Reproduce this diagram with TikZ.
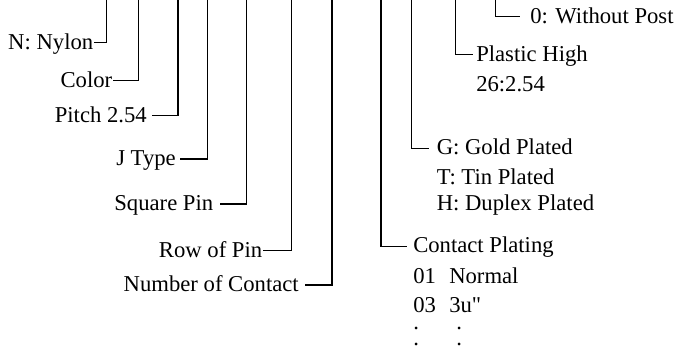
\documentclass[tikz,border=0pt]{standalone}
\usepackage{fontspec}
\setmainfont{Liberation Serif}[Ligatures=TeXOff]
\begin{document}
\begin{tikzpicture}[x=0.75pt,y=-0.75pt,
  lbl/.style={inner sep=0pt, font=\fontsize{17pt}{20pt}\selectfont},
  lleft/.style={lbl, anchor=base east},
  lright/.style={lbl, anchor=base west},
  wire/.style={line width=1.1pt, black}]
\useasboundingbox (0,0) rectangle (676,347);

% top ends of the vertical leads
\coordinate (tnylon)   at (106.7,0);
\coordinate (tcolor)   at (138.5,0);
\coordinate (tpitch)   at (178,0);
\coordinate (tjtype)   at (207.7,0);
\coordinate (tsquare)  at (246.3,0);
\coordinate (trow)     at (291.3,0);
\coordinate (tnumber)  at (331.8,0);
\coordinate (tplating) at (381,0);
\coordinate (tgold)    at (411.7,0);
\coordinate (tplastic) at (455.7,0);
\coordinate (tpost)    at (495.5,0);

% left labels
\node[lleft] (nylon)  at (93.5,49)    {N: Nylon};
\node[lleft] (color)  at (112.5,87.2) {Color};
\node[lleft] (pitch)  at (147,122.2)  {Pitch 2.54};
\node[lleft] (jtype)  at (176,165.5)  {J Type};
\node[lleft] (square) at (213.5,210.5){Square Pin};
\node[lleft] (row)    at (262.5,257.2){Row of Pin};
\node[lleft] (number) at (299,291.5)  {Number of Contact};

\draw[wire] (tnylon)  |- ([shift={(0.5,-6.5)}]nylon.base east);
\draw[wire] (tcolor)  |- ([shift={(0.5,-6.5)}]color.base east);
\draw[wire] (tpitch)  |- ([shift={(5,-6.5)}]pitch.base east);
\draw[wire] (tjtype)  |- ([shift={(4,-6.5)}]jtype.base east);
\draw[wire] (tsquare) |- ([shift={(6.5,-6.5)}]square.base east);
\draw[wire] (trow)    |- ([shift={(0.5,-6.5)}]row.base east);
\draw[wire] (tnumber) |- ([shift={(6,-6.5)}]number.base east);

% right labels
\node[lright] (post)    at (530,23.2)   {0: Without Post};
\node[lright] (plastic) at (476,61)     {Plastic High};
\node[lright] (plastic2) at (476,91.5)  {26:2.54};
\node[lright] (gold)    at (436.5,154.8){G: Gold Plated};
\node[lright] (tin)     at (436.5,184)  {T: Tin Plated};
\node[lright] (duplex)  at (436.5,210)  {H: Duplex Plated};
\node[lright] (plating) at (413,252.8)  {Contact Plating};
\node[lright] (c01)     at (413,283.5)  {01};
\node[lright] (normal)  at (449,283.5)  {Normal};
\node[lright] (c03)     at (413,312.5)  {03};
\node[lright] (threeu)  at (449,312.5)  {3u"};
\node[lright] (d1)      at (413,329.5)  {.};
\node[lright] (d2)      at (456,329.5)  {.};
\node[lright] (d3)      at (413,345)    {.};
\node[lright] (d4)      at (456,345)    {.};

\draw[wire] (tpost)    |- ([shift={(-10,-6.5)}]post.base west);
\draw[wire] (tplastic) |- ([shift={(-3,-6.5)}]plastic.base west);
\draw[wire] (tgold)    |- ([shift={(-7.5,-6.5)}]gold.base west);
\draw[wire] (tplating) |- ([shift={(-6,-6.5)}]plating.base west);
\end{tikzpicture}
\end{document}
